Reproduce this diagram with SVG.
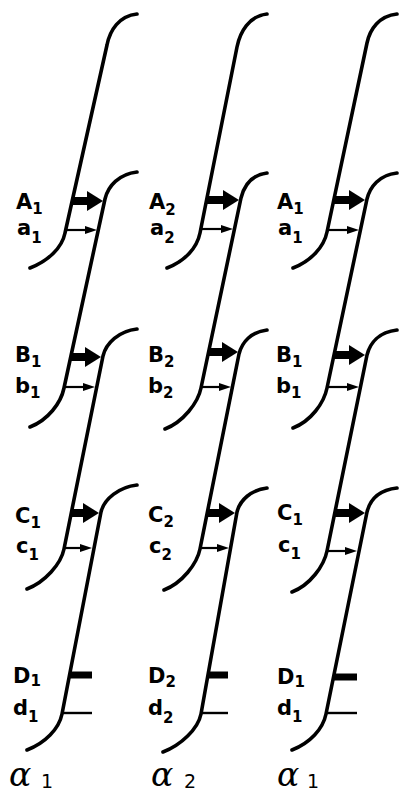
<svg xmlns="http://www.w3.org/2000/svg" width="399" height="795" viewBox="0 0 399 795">
  <defs>
    <style>
      .strand { fill: none; stroke: #000; stroke-width: 3.6; stroke-linecap: round; stroke-linejoin: round; }
      .thick { fill: none; stroke: #000; stroke-width: 8; }
      .thin { fill: none; stroke: #000; stroke-width: 2.2; }
      .bar { fill: none; stroke: #000; stroke-width: 7; }
      .line { fill: none; stroke: #000; stroke-width: 2.4; }
      .lbl { font-family: "DejaVu Sans", "Liberation Sans", sans-serif; font-weight: bold; font-size: 21px; fill: #000; }
      .sub { font-size: 15px; }
      .greek { font-family: "DejaVu Serif", "Liberation Serif", serif; font-style: italic; font-size: 33px; fill: #000; }
      .gsub { font-family: "DejaVu Sans", "Liberation Sans", sans-serif; font-size: 19px; fill: #000; }
    </style>
    <marker id="head-thick" markerUnits="userSpaceOnUse" viewBox="0 0 16 20" refX="1" refY="10" markerWidth="16" markerHeight="20" orient="auto">
      <path d="M0,0 L16,10 L0,20 Z" fill="#000"/>
    </marker>
    <marker id="head-thin" markerUnits="userSpaceOnUse" viewBox="0 0 12 8" refX="1" refY="4" markerWidth="12" markerHeight="8" orient="auto">
      <path d="M0,0 L12,4 L0,8 Z" fill="#000"/>
    </marker>
  </defs>

  <rect width="399" height="795" fill="#fff"/>

  <!-- column 1: strands -->
  <g id="c1-s1"><path class="strand" d="M137,14 C119,16 110,30 107,45 L65,233 C62,248 48,261 30,268"/></g>
  <g id="c1-s2"><path class="strand" d="M137,172 C119,174 108,186 105,199 L64,388 C61,403 48,420 30,427"/></g>
  <g id="c1-s3"><path class="strand" d="M137,329 C119,331 106,343 103,356 L64,549 C61,564 45,582 27,589"/></g>
  <g id="c1-s4"><path class="strand" d="M137,485 C119,487 104,499 101,512 L62,714 C59,729 45,743 27,750"/></g>

  <!-- column 2: strands -->
  <g id="c2-s1"><path class="strand" d="M267,14 C249,16 240,32 237,47 L200,233 C197,248 185,261 167,268"/></g>
  <g id="c2-s2"><path class="strand" d="M267,173 C251,175 244,186 241,198 L201,388 C198,403 183,422 165,429"/></g>
  <g id="c2-s3"><path class="strand" d="M267,330 C251,332 242,342 239,354 L200,549 C197,564 182,583 164,590"/></g>
  <g id="c2-s4"><path class="strand" d="M267,488 C251,490 240,500 237,512 L201,714 C198,729 181,745 163,752"/></g>

  <!-- column 3: strands -->
  <g id="c3-s1"><path class="strand" d="M397,14 C379,16 370,29 367,43 L327,232 C324,247 311,261 293,268"/></g>
  <g id="c3-s2"><path class="strand" d="M397,173 C379,175 370,187 367,199 L327,388 C324,403 311,421 293,428"/></g>
  <g id="c3-s3"><path class="strand" d="M397,330 C379,332 370,343 367,355 L327,551 C324,566 310,585 292,592"/></g>
  <g id="c3-s4"><path class="strand" d="M397,488 C379,490 370,500 367,512 L326,714 C323,729 310,743 292,750"/></g>

  <!-- connectors between neighbouring strands -->
  <g id="connectors">
    <!-- column 1 -->
    <path class="thick" d="M72,201 H88" marker-end="url(#head-thick)"/>
    <path class="thin" d="M66,230 H86" marker-end="url(#head-thin)"/>
    <path class="thick" d="M71,357 H86" marker-end="url(#head-thick)"/>
    <path class="thin" d="M64,387 H84" marker-end="url(#head-thin)"/>
    <path class="thick" d="M71,513 H84" marker-end="url(#head-thick)"/>
    <path class="thin" d="M64,548 H81" marker-end="url(#head-thin)"/>
    <path class="bar" d="M69,675 H92"/>
    <path class="line" d="M62,713 H92"/>
    <!-- column 2 -->
    <path class="thick" d="M207,200 H224" marker-end="url(#head-thick)"/>
    <path class="thin" d="M201,229 H222" marker-end="url(#head-thin)"/>
    <path class="thick" d="M208,352 H223" marker-end="url(#head-thick)"/>
    <path class="thin" d="M201,387 H220" marker-end="url(#head-thin)"/>
    <path class="thick" d="M207,513 H220" marker-end="url(#head-thick)"/>
    <path class="thin" d="M200,548 H218" marker-end="url(#head-thin)"/>
    <path class="bar" d="M208,675 H228"/>
    <path class="line" d="M201,713 H228"/>
    <!-- column 3 -->
    <path class="thick" d="M334,200 H350" marker-end="url(#head-thick)"/>
    <path class="thin" d="M327,230 H348" marker-end="url(#head-thin)"/>
    <path class="thick" d="M334,355 H350" marker-end="url(#head-thick)"/>
    <path class="thin" d="M327,387 H348" marker-end="url(#head-thin)"/>
    <path class="thick" d="M335,513 H350" marker-end="url(#head-thick)"/>
    <path class="thin" d="M327,551 H346" marker-end="url(#head-thin)"/>
    <path class="bar" d="M333,677 H357"/>
    <path class="line" d="M326,713 H357"/>
  </g>

  <!-- column 1 labels -->
  <g id="c1-labels" class="lbl">
    <text x="16" y="209">A<tspan class="sub" dy="5">1</tspan></text>
    <text x="17" y="235">a<tspan class="sub" dy="8">1</tspan></text>
    <text x="15" y="362">B<tspan class="sub" dy="5">1</tspan></text>
    <text x="15" y="393">b<tspan class="sub" dy="5">1</tspan></text>
    <text x="15" y="523">C<tspan class="sub" dy="5">1</tspan></text>
    <text x="16" y="553">c<tspan class="sub" dy="7">1</tspan></text>
    <text x="13" y="683">D<tspan class="sub" dy="3">1</tspan></text>
    <text x="13" y="715">d<tspan class="sub" dy="7">1</tspan></text>
  </g>
  <!-- column 2 labels -->
  <g id="c2-labels" class="lbl">
    <text x="149" y="209">A<tspan class="sub" dy="6">2</tspan></text>
    <text x="150" y="235">a<tspan class="sub" dy="8">2</tspan></text>
    <text x="148" y="362">B<tspan class="sub" dy="5">2</tspan></text>
    <text x="148" y="393">b<tspan class="sub" dy="5">2</tspan></text>
    <text x="148" y="522">C<tspan class="sub" dy="5">2</tspan></text>
    <text x="149" y="553">c<tspan class="sub" dy="7">2</tspan></text>
    <text x="148" y="683">D<tspan class="sub" dy="4">2</tspan></text>
    <text x="148" y="715">d<tspan class="sub" dy="8">2</tspan></text>
  </g>
  <!-- column 3 labels -->
  <g id="c3-labels" class="lbl">
    <text x="277" y="209">A<tspan class="sub" dy="5">1</tspan></text>
    <text x="278" y="235">a<tspan class="sub" dy="8">1</tspan></text>
    <text x="276" y="362">B<tspan class="sub" dy="5">1</tspan></text>
    <text x="276" y="393">b<tspan class="sub" dy="5">1</tspan></text>
    <text x="277" y="520">C<tspan class="sub" dy="5">1</tspan></text>
    <text x="278" y="552">c<tspan class="sub" dy="7">1</tspan></text>
    <text x="277" y="684">D<tspan class="sub" dy="3">1</tspan></text>
    <text x="277" y="715">d<tspan class="sub" dy="7">1</tspan></text>
  </g>

  <!-- column captions -->
  <g id="captions">
    <text class="greek" x="9" y="786">α</text><text class="gsub" x="41" y="788">1</text>
    <text class="greek" x="151" y="786">α</text><text class="gsub" x="184" y="788">2</text>
    <text class="greek" x="277" y="786">α</text><text class="gsub" x="307" y="788">1</text>
  </g>
</svg>
